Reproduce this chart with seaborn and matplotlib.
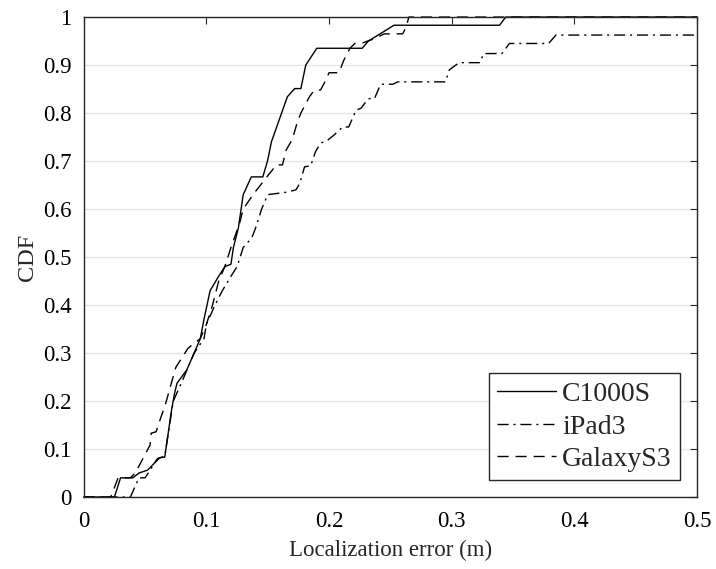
import matplotlib
matplotlib.use("Agg")
import matplotlib.pyplot as plt
import seaborn as sns
import pandas as pd

# ---------------- data ----------------
c1000s_x = [0, 0.025, 0.030, 0.040, 0.045, 0.052, 0.062, 0.066, 0.0715, 0.074, 0.076,
            0.084, 0.090, 0.095, 0.098, 0.103, 0.110, 0.115, 0.120, 0.122, 0.126,
            0.130, 0.1366, 0.146, 0.150, 0.153, 0.166, 0.172, 0.177, 0.181, 0.190,
            0.227, 0.232, 0.253, 0.339, 0.344, 0.5]
c1000s_y = [0, 0, 0.04, 0.04, 0.05, 0.056, 0.082, 0.083, 0.18, 0.216, 0.237,
            0.265, 0.30, 0.33, 0.37, 0.43, 0.46, 0.48, 0.485, 0.52, 0.56,
            0.63, 0.667, 0.667, 0.702, 0.74, 0.834, 0.851, 0.851, 0.90, 0.935,
            0.935, 0.95, 0.983, 0.983, 1.0, 1.0]

ipad3_x = [0, 0.038, 0.045, 0.050, 0.060, 0.066, 0.073, 0.080, 0.085, 0.090, 0.098,
           0.100, 0.107, 0.113, 0.120, 0.125, 0.130, 0.137, 0.140, 0.145, 0.150,
           0.165, 0.173, 0.176, 0.180, 0.185, 0.189, 0.193, 0.199, 0.204, 0.211,
           0.216, 0.222, 0.226, 0.232, 0.237, 0.242, 0.252, 0.256, 0.295, 0.298,
           0.306, 0.323, 0.326, 0.341, 0.347, 0.379, 0.385, 0.5]
ipad3_y = [0, 0, 0.04, 0.04, 0.08, 0.085, 0.20, 0.24, 0.27, 0.30, 0.33,
           0.36, 0.40, 0.43, 0.46, 0.48, 0.52, 0.54, 0.56, 0.60, 0.63,
           0.635, 0.64, 0.653, 0.688, 0.69, 0.72, 0.737, 0.744, 0.754, 0.771,
           0.771, 0.806, 0.81, 0.83, 0.83, 0.86, 0.86, 0.865, 0.865, 0.89,
           0.905, 0.905, 0.924, 0.924, 0.945, 0.945, 0.9625, 0.9625]

galaxys3_x = [0, 0.022, 0.028, 0.038, 0.042, 0.054, 0.055, 0.059, 0.063, 0.066,
              0.075, 0.080, 0.085, 0.095, 0.100, 0.105, 0.110, 0.115, 0.120, 0.127,
              0.130, 0.138, 0.145, 0.157, 0.162, 0.165, 0.170, 0.174, 0.177, 0.184,
              0.188, 0.193, 0.196, 0.200, 0.208, 0.212, 0.217, 0.221, 0.226, 0.237,
              0.245, 0.260, 0.263, 0.265, 0.5]
galaxys3_y = [0, 0, 0.04, 0.04, 0.05, 0.108, 0.133, 0.136, 0.167, 0.188,
              0.27, 0.29, 0.31, 0.33, 0.36, 0.40, 0.45, 0.48, 0.52, 0.57,
              0.60, 0.63, 0.653, 0.692, 0.692, 0.723, 0.745, 0.78, 0.80, 0.834,
              0.848, 0.848, 0.862, 0.884, 0.884, 0.91, 0.935, 0.945, 0.945, 0.955,
              0.965, 0.965, 0.98, 1.0, 1.0]

series_names = ["C1000S", "iPad3", "GalaxyS3"]
x_ticks = [0, 0.1, 0.2, 0.3, 0.4, 0.5]
x_tick_labels = ["0", "0.1", "0.2", "0.3", "0.4", "0.5"]
y_ticks = [0, 0.1, 0.2, 0.3, 0.4, 0.5, 0.6, 0.7, 0.8, 0.9, 1.0]
y_tick_labels = ["0", "0.1", "0.2", "0.3", "0.4", "0.5", "0.6", "0.7", "0.8", "0.9", "1"]

# ---------------- styling ----------------
sns.set_style("white")
plt.rcParams["font.family"] = ["Liberation Serif", "DejaVu Serif"]

fig = plt.figure(figsize=(7.16, 5.69), dpi=100)
ax = fig.add_axes([0.117, 0.1265, 0.8565, 0.8435])

axis_col = "#262626"
line_specs = [
    (series_names[0], c1000s_x, c1000s_y, None),
    (series_names[1], ipad3_x, ipad3_y, (8, 3.5, 1.5, 3.5)),
    (series_names[2], galaxys3_x, galaxys3_y, (8, 5)),
]

for name, xs, ys, dash in line_specs:
    df = pd.DataFrame({"x": xs, "y": ys})
    sns.lineplot(data=df, x="x", y="y", ax=ax, sort=False, estimator=None,
                 color="black", linewidth=1.0, label=name)
    line = ax.get_lines()[-1]
    if dash is not None:
        line.set_dashes(dash)
    line.set_clip_on(False)

ax.set_xlim(0, 0.5)
ax.set_ylim(0, 1)
ax.set_xticks(x_ticks)
ax.set_xticklabels(x_tick_labels)
ax.set_yticks(y_ticks)
ax.set_yticklabels(y_tick_labels)

ax.yaxis.grid(True, color="#e6e6e6", linewidth=1.0)
ax.xaxis.grid(False)
ax.set_axisbelow(True)

for sp in ax.spines.values():
    sp.set_visible(True)
    sp.set_color(axis_col)
    sp.set_linewidth(1.0)

ax.tick_params(direction="in", top=True, right=True, length=5, width=0.8,
               color=axis_col, labelsize=16.5, labelcolor="black")
ax.tick_params(axis="x", pad=10)
ax.tick_params(axis="y", pad=9)

ax.set_xlabel("Localization error (m)", fontsize=16.5, labelpad=6)
ax.set_ylabel("CDF", fontsize=17.5, labelpad=3)

leg = ax.legend(loc="lower right", bbox_to_anchor=(0.972, 0.035), borderaxespad=0,
                fontsize=20, frameon=True, fancybox=False, framealpha=1,
                handlelength=2.1, handletextpad=0.22, borderpad=0.3,
                labelspacing=0.25)
leg.get_frame().set_edgecolor(axis_col)
leg.get_frame().set_linewidth(1.0)

fig.savefig("out.png", dpi=100)
